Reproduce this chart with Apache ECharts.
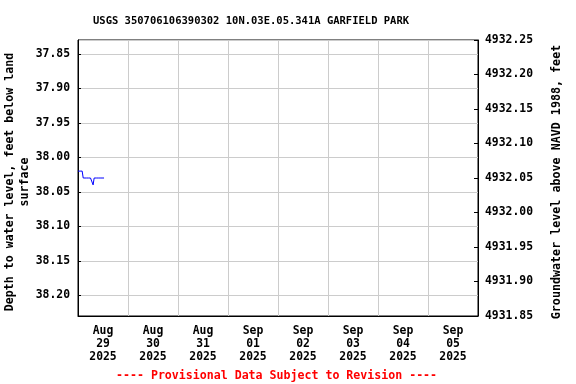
<!DOCTYPE html>
<html>
<head>
<meta charset="utf-8">
<script src="https://cdn.jsdelivr.net/npm/echarts@6/dist/echarts.min.js"></script>
<style>
html,body{margin:0;padding:0;background:#fff;}
#chart{width:576px;height:384px;}
</style>
</head>
<body>
<div id="chart"></div>
<script>
// ---- data ----
const titleText = 'USGS 350706106390302 10N.03E.05.341A GARFIELD PARK';
const footerText = '---- Provisional Data Subject to Revision ----';
const dayLabels = ['Aug\n29\n2025','Aug\n30\n2025','Aug\n31\n2025','Sep\n01\n2025','Sep\n02\n2025','Sep\n03\n2025','Sep\n04\n2025','Sep\n05\n2025'];
// hours after 2025-08-29 00:00
const hours  = [0, 1, 2, 2.5, 3, 4, 5, 6, 6.75, 7.25, 7.75, 8.25, 9, 10, 11, 12, 12.5];
const depths = [38.02, 38.02, 38.02, 38.03, 38.03, 38.03, 38.03, 38.03, 38.03, 38.04, 38.03, 38.03, 38.03, 38.03, 38.03, 38.03, 38.03];
const leftMin = 37.83, leftMax = 38.23;
const rightMin = 4931.85, rightMax = 4932.25, rightStep = 0.05;

const t0 = new Date(2025, 7, 29, 0, 0, 0).getTime();
const tEnd = new Date(2025, 8, 6, 0, 0, 0).getTime();
const seriesData = hours.map((h, i) => [t0 + h * 3600 * 1000, depths[i]]);

const FONT = 'DejaVu Sans Mono';
const chart = echarts.init(document.getElementById('chart'), null, {renderer: 'canvas'});
chart.setOption({
  animation: false,
  backgroundColor: '#fff',
  title: [
    {text: titleText, left: 93, top: 16, padding: 0,
     textStyle: {fontFamily: FONT, fontWeight: 'bold', fontSize: 10.5, color: '#000'}},
    {text: footerText, left: 116, top: 370, padding: 0,
     textStyle: {fontFamily: FONT, fontWeight: 'bold', fontSize: 11.6, color: '#ff0000'}}
  ],
  grid: {left: 78, right: 98, top: 40, bottom: 68, outerBoundsMode: 'none', containLabel: false,
         show: true, borderColor: '#000', borderWidth: 1, backgroundColor: 'transparent'},
  xAxis: [
    {type: 'category', data: dayLabels, boundaryGap: true, position: 'bottom',
     axisLine: {show: true, lineStyle: {color: '#000'}},
     axisTick: {show: false},
     splitLine: {show: true, lineStyle: {color: '#cccccc', width: 1}},
     axisLabel: {fontFamily: FONT, fontWeight: 'bold', fontSize: 11.4, color: '#000', lineHeight: 12.7, margin: 9, interval: 0}},
    {type: 'time', min: t0, max: tEnd, show: false}
  ],
  yAxis: [
    {type: 'value', inverse: true, min: leftMin, max: leftMax, splitNumber: 8, position: 'left',
     name: 'Depth to water level, feet below land\nsurface', nameLocation: 'middle', nameGap: 46, nameMoveOverlap: false,
     nameTextStyle: {fontFamily: FONT, fontWeight: 'bold', fontSize: 11.6, color: '#000', lineHeight: 15, align: 'center', padding: [0, 8, 0, 0]},
     axisLine: {show: true, lineStyle: {color: '#000'}},
     axisTick: {show: true, inside: true, length: 3, lineStyle: {color: '#000'}},
     splitLine: {show: true, lineStyle: {color: '#cccccc', width: 1}},
     axisLabel: {showMinLabel: false, showMaxLabel: false, fontFamily: FONT, fontWeight: 'bold', fontSize: 11.4, color: '#000', margin: 8,
       formatter: v => (Math.abs(Math.round(v * 20) - v * 20) < 1e-6) ? v.toFixed(2) : ''}},
    {type: 'value', min: rightMin, max: rightMax, interval: rightStep, position: 'right',
     name: 'Groundwater level above NAVD 1988, feet', nameLocation: 'middle', nameGap: 73, nameMoveOverlap: false,
     nameTextStyle: {fontFamily: FONT, fontWeight: 'bold', fontSize: 11.7, color: '#000', padding: [0, 8, 0, 0]},
     axisLine: {show: true, lineStyle: {color: '#000'}},
     axisTick: {show: true, inside: true, length: 4, lineStyle: {color: '#000'}},
     splitLine: {show: false},
     axisLabel: {fontFamily: FONT, fontWeight: 'bold', fontSize: 11.4, color: '#000', margin: 7,
       formatter: v => v.toFixed(2)}}
  ],
  series: [
    {type: 'line', xAxisIndex: 1, yAxisIndex: 0, data: seriesData, showSymbol: false, symbol: 'none',
     lineStyle: {color: '#0000ff', width: 1}, itemStyle: {color: '#0000ff'}}
  ]
});
</script>
</body>
</html>
